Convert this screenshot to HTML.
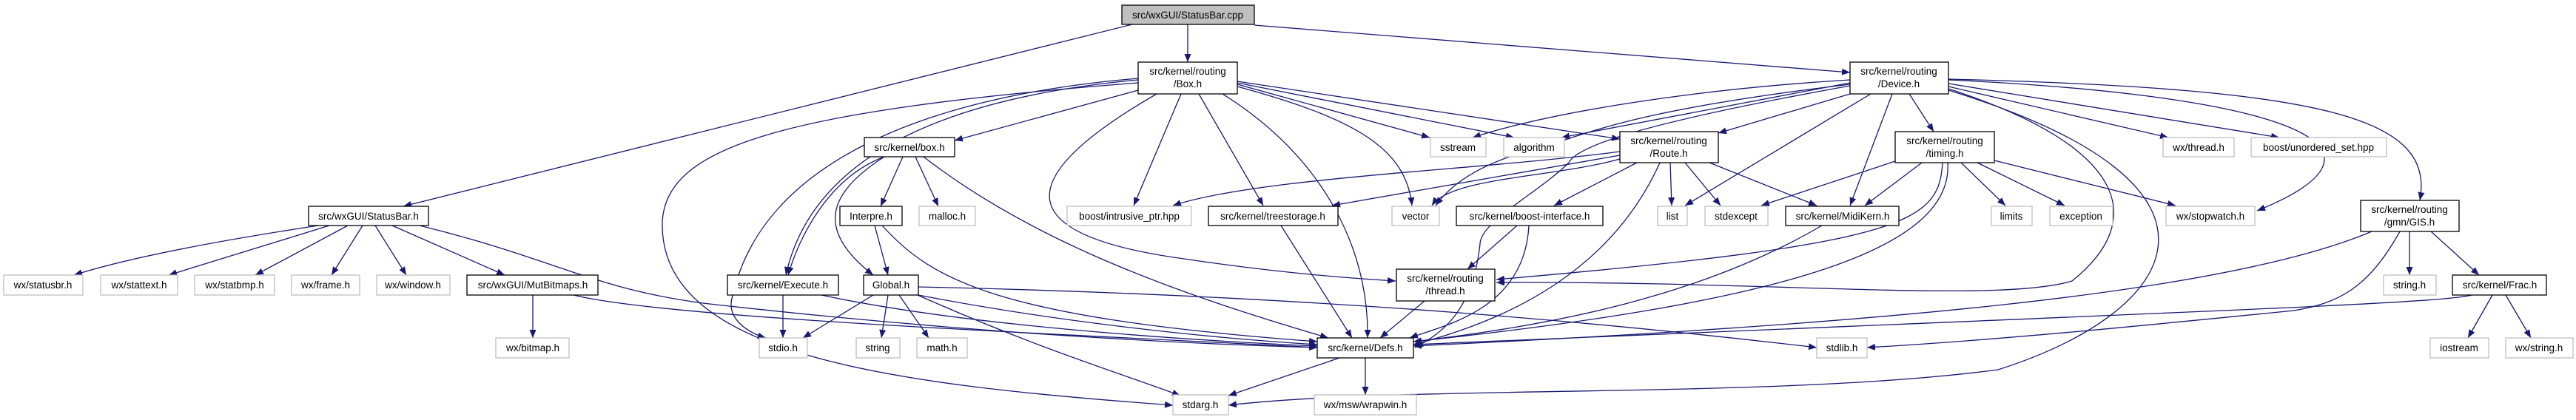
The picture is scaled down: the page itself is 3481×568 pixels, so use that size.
<!DOCTYPE html>
<html><head><meta charset="utf-8"><style>
html,body{margin:0;padding:0;background:#fff;}
svg{display:block;}
text{font-family:"Liberation Sans",sans-serif;font-size:13.5px;fill:#000;}
.e{fill:none;stroke:#191970;stroke-width:1.3;marker-end:url(#a);}
.n{fill:#fff;stroke:#000;stroke-width:1.3;}
.g{fill:#fff;stroke:#bfbfbf;stroke-width:1.3;}
</style></head><body>
<svg width="3481" height="568" viewBox="0 0 3481 568" xmlns="http://www.w3.org/2000/svg">
<defs><marker id="a" markerWidth="12" markerHeight="9" refX="11" refY="4.5" orient="auto" markerUnits="userSpaceOnUse"><path d="M0,0 L11,4.5 L0,9 z" fill="#191970"/></marker></defs>
<g>
<path class="e" d="M1605,33 L1605,84"/>
<path class="e" d="M1530,33 L545,279"/>
<path class="e" d="M1695,34 L2500,98"/>
<path class="e" d="M430,305 Q200,340 100,372"/>
<path class="e" d="M445,305 L228,372"/>
<path class="e" d="M470,305 L345,372"/>
<path class="e" d="M490,305 L448,372"/>
<path class="e" d="M507,305 L549,372"/>
<path class="e" d="M530,305 L682,372"/>
<path class="e" d="M567,305 C750,350 800,390 950,410 C1300,450 1600,465 1780,470"/>
<path class="e" d="M720,399 L720,457"/>
<path class="e" d="M775,399 C900,430 1400,450 1780,470"/>
<path class="e" d="M1058,399 L1058,457"/>
<path class="e" d="M1110,399 C1300,440 1600,460 1780,468"/>
<path class="e" d="M1180,399 L1085,457"/>
<path class="e" d="M1200,399 L1191,457"/>
<path class="e" d="M1215,399 L1255,457"/>
<path class="e" d="M1241,399 C1400,430 1600,455 1780,466"/>
<path class="e" d="M1240,399 C1400,470 1500,500 1595,535"/>
<path class="e" d="M1241,388 C1800,400 2200,440 2455,470"/>
<path class="e" d="M1182,305 L1200,372"/>
<path class="e" d="M1192,305 C1260,380 1350,430 1780,462"/>
<path class="e" d="M1220,212 L1190,279"/>
<path class="e" d="M1237,212 L1268,279"/>
<path class="e" d="M1195,212 C1120,240 1080,320 1065,372"/>
<path class="e" d="M1195,212 C1120,260 1100,310 1180,372"/>
<path class="e" d="M1248,212 C1400,330 1600,400 1795,457"/>
<path class="e" d="M1538,122 L1290,190"/>
<path class="e" d="M1538,108 C1300,130 1100,200 1062,372"/>
<path class="e" d="M1538,106 C1250,130 1030,220 990,400 C980,430 1010,450 1035,457"/>
<path class="e" d="M1538,112 C1050,150 900,200 895,300 C890,480 1200,520 1585,548"/>
<path class="e" d="M1596,127 L1532,278"/>
<path class="e" d="M1620,127 L1707,278"/>
<path class="e" d="M1652,127 C1800,220 1850,350 1848,457"/>
<path class="e" d="M1672,117 C1830,160 1900,200 1908,278"/>
<path class="e" d="M1672,114 L1932,186"/>
<path class="e" d="M1672,112 L2046,186"/>
<path class="e" d="M1672,110 L2189,188"/>
<path class="e" d="M1563,127 C1350,250 1380,320 1600,350 C1700,365 1800,375 1886,380"/>
<path class="e" d="M1731,305 L1827,457"/>
<path class="e" d="M2050,305 L1983,364"/>
<path class="e" d="M2066,305 C2060,420 1950,440 1905,457"/>
<path class="e" d="M1925,407 L1865,457"/>
<path class="e" d="M1810,484 L1660,535"/>
<path class="e" d="M1845,484 L1845,534"/>
<path class="e" d="M2212,220 L2100,278"/>
<path class="e" d="M2257,220 L2259,278"/>
<path class="e" d="M2277,220 L2325,278"/>
<path class="e" d="M2310,220 L2455,278"/>
<path class="e" d="M2189,205 C2000,230 1700,240 1585,278"/>
<path class="e" d="M2189,210 L1800,278"/>
<path class="e" d="M2189,215 C2100,240 1960,240 1935,278"/>
<path class="e" d="M2243,220 C2180,360 2050,430 1910,466"/>
<path class="e" d="M2500,127 L2322,180"/>
<path class="e" d="M2528,127 L2277,278"/>
<path class="e" d="M2557,127 L2500,278"/>
<path class="e" d="M2580,127 L2613,178"/>
<path class="e" d="M2500,108 C2300,120 2100,150 1990,186"/>
<path class="e" d="M2500,112 L2110,186"/>
<path class="e" d="M2500,114 C2200,150 2150,180 2080,200 C2000,220 1960,250 1940,278"/>
<path class="e" d="M2500,116 C2200,170 2130,200 2120,220 C2080,260 2000,300 2000,330 C1990,420 1950,450 1912,470"/>
<path class="e" d="M2633,117 L2930,186"/>
<path class="e" d="M2633,113 L3080,186"/>
<path class="e" d="M2633,107 C3150,120 3290,160 3270,271"/>
<path class="e" d="M2633,108 C3100,130 3260,200 3050,285"/>
<path class="e" d="M2633,122 C3050,250 2950,420 2700,500 C2400,540 1900,520 1660,548"/>
<path class="e" d="M2633,120 C2880,200 2900,300 2800,380 C2700,410 2400,380 2022,382"/>
<path class="e" d="M2561,218 L2380,278"/>
<path class="e" d="M2597,220 L2520,278"/>
<path class="e" d="M2650,220 L2710,278"/>
<path class="e" d="M2672,220 L2790,278"/>
<path class="e" d="M2695,217 L2940,278"/>
<path class="e" d="M2625,220 C2620,300 2580,330 2022,378"/>
<path class="e" d="M2632,220 C2640,340 2400,410 1910,462"/>
<path class="e" d="M2462,305 C2300,400 2100,440 1910,462"/>
<path class="e" d="M3256,313 L3256,372"/>
<path class="e" d="M3285,313 L3350,372"/>
<path class="e" d="M3205,313 C3000,400 2500,440 1910,468"/>
<path class="e" d="M3243,313 C3200,390 3160,410 3100,420 C2900,440 2700,460 2523,470"/>
<path class="e" d="M3368,399 L3335,457"/>
<path class="e" d="M3386,399 L3420,457"/>
<path class="e" d="M3340,399 C3300,410 3000,420 1910,466"/>
</g>
<g text-anchor="middle">
<rect x="1516" y="7" width="179" height="26" fill="#bfbfbf" stroke="#000" stroke-width="1.3"/><text x="1605" y="25">src/wxGUI/StatusBar.cpp</text>
<rect class="n" x="1538" y="84" width="134" height="43"/><text x="1605" y="101">src/kernel/routing</text><text x="1605" y="118">/Box.h</text>
<rect class="n" x="2500" y="84" width="133" height="43"/><text x="2566" y="101">src/kernel/routing</text><text x="2566" y="118">/Device.h</text>
<rect class="n" x="417" y="279" width="162" height="26"/><text x="498" y="297">src/wxGUI/StatusBar.h</text>
<rect class="n" x="1168" y="186" width="122" height="26"/><text x="1229" y="204">src/kernel/box.h</text>
<rect class="g" x="1933" y="186" width="75" height="26"/><text x="1970" y="204">sstream</text>
<rect class="g" x="2032" y="186" width="82" height="26"/><text x="2073" y="204">algorithm</text>
<rect class="g" x="2923" y="186" width="96" height="26"/><text x="2971" y="204">wx/thread.h</text>
<rect class="g" x="3042" y="186" width="183" height="26"/><text x="3133" y="204">boost/unordered_set.hpp</text>
<rect class="n" x="2189" y="178" width="133" height="42"/><text x="2255" y="195">src/kernel/routing</text><text x="2255" y="212">/Route.h</text>
<rect class="n" x="2561" y="178" width="134" height="42"/><text x="2628" y="195">src/kernel/routing</text><text x="2628" y="212">/timing.h</text>
<rect class="n" x="1135" y="279" width="84" height="26"/><text x="1177" y="297">Interpre.h</text>
<rect class="g" x="1242" y="279" width="76" height="26"/><text x="1280" y="297">malloc.h</text>
<rect class="g" x="1442" y="279" width="168" height="26"/><text x="1526" y="297">boost/intrusive_ptr.hpp</text>
<rect class="n" x="1633" y="279" width="175" height="26"/><text x="1720" y="297">src/kernel/treestorage.h</text>
<rect class="g" x="1881" y="279" width="64" height="26"/><text x="1913" y="297">vector</text>
<rect class="n" x="1968" y="279" width="198" height="26"/><text x="2067" y="297">src/kernel/boost-interface.h</text>
<rect class="g" x="2240" y="279" width="40" height="26"/><text x="2260" y="297">list</text>
<rect class="g" x="2304" y="279" width="85" height="26"/><text x="2346" y="297">stdexcept</text>
<rect class="n" x="2413" y="279" width="153" height="26"/><text x="2490" y="297">src/kernel/MidiKern.h</text>
<rect class="g" x="2691" y="279" width="55" height="26"/><text x="2718" y="297">limits</text>
<rect class="g" x="2770" y="279" width="85" height="26"/><text x="2812" y="297">exception</text>
<rect class="g" x="2927" y="279" width="120" height="26"/><text x="2987" y="297">wx/stopwatch.h</text>
<rect class="n" x="3190" y="271" width="133" height="42"/><text x="3256" y="288">src/kernel/routing</text><text x="3256" y="305">/gmn/GIS.h</text>
<rect class="g" x="5" y="372" width="107" height="27"/><text x="58" y="390">wx/statusbr.h</text>
<rect class="g" x="136" y="372" width="104" height="27"/><text x="188" y="390">wx/stattext.h</text>
<rect class="g" x="263" y="372" width="108" height="27"/><text x="317" y="390">wx/statbmp.h</text>
<rect class="g" x="394" y="372" width="92" height="27"/><text x="440" y="390">wx/frame.h</text>
<rect class="g" x="509" y="372" width="99" height="27"/><text x="558" y="390">wx/window.h</text>
<rect class="n" x="631" y="372" width="177" height="27"/><text x="720" y="390">src/wxGUI/MutBitmaps.h</text>
<rect class="n" x="983" y="372" width="150" height="27"/><text x="1058" y="390">src/kernel/Execute.h</text>
<rect class="n" x="1167" y="372" width="74" height="27"/><text x="1204" y="390">Global.h</text>
<rect class="n" x="1887" y="364" width="133" height="43"/><text x="1953" y="381">src/kernel/routing</text><text x="1953" y="398">/thread.h</text>
<rect class="g" x="3221" y="372" width="71" height="27"/><text x="3256" y="390">string.h</text>
<rect class="n" x="3314" y="372" width="127" height="27"/><text x="3378" y="390">src/kernel/Frac.h</text>
<rect class="g" x="670" y="457" width="99" height="27"/><text x="720" y="475">wx/bitmap.h</text>
<rect class="g" x="1026" y="457" width="65" height="27"/><text x="1058" y="475">stdio.h</text>
<rect class="g" x="1157" y="457" width="59" height="27"/><text x="1186" y="475">string</text>
<rect class="g" x="1239" y="457" width="68" height="27"/><text x="1273" y="475">math.h</text>
<rect class="n" x="1780" y="457" width="130" height="27"/><text x="1845" y="475">src/kernel/Defs.h</text>
<rect class="g" x="2455" y="457" width="68" height="27"/><text x="2489" y="475">stdlib.h</text>
<rect class="g" x="3284" y="457" width="79" height="27"/><text x="3323" y="475">iostream</text>
<rect class="g" x="3386" y="457" width="91" height="27"/><text x="3431" y="475">wx/string.h</text>
<rect class="g" x="1585" y="534" width="75" height="27"/><text x="1622" y="552">stdarg.h</text>
<rect class="g" x="1776" y="534" width="138" height="27"/><text x="1845" y="552">wx/msw/wrapwin.h</text>
</g>
</svg>
</body></html>
